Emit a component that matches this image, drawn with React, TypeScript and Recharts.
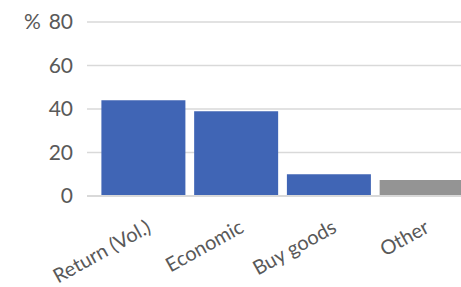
import React from 'react';
import { BarChart, Bar, XAxis, YAxis, CartesianGrid, Cell } from 'recharts';

const categories = ['Return (Vol.)', 'Economic', 'Buy goods', 'Other'];
const shares = [44, 39, 10, 7.4];
const barColors = ['#4065B5', '#4065B5', '#4065B5', '#949494'];
const yTicks = [0, 20, 40, 60, 80];
const yUnit = '%';

const data = categories.map((name, i) => ({ name, value: shares[i] }));

const FONT = 'Lato, "Open Sans", sans-serif';
const TEXT_COLOR = '#595959';

const XTick = (props: any) => {
  const { x, y, payload } = props;
  const px = x + 2;
  const py = y;
  return (
    <text
      x={px}
      y={py}
      dy="0.71em"
      textAnchor="end"
      transform={`rotate(-29, ${px}, ${py})`}
      fill={TEXT_COLOR}
      fontSize={20}
      fontFamily={FONT}
    >
      {payload.value}
    </text>
  );
};

const UnitLabel = (props: any) => {
  const vb = props.viewBox || { x: 0, y: 22 };
  return (
    <text
      x={vb.x + 24}
      y={vb.y}
      dy="0.355em"
      textAnchor="start"
      fill={TEXT_COLOR}
      fontSize={21}
      fontFamily={FONT}
    >
      {yUnit}
    </text>
  );
};

export default function App() {
  return (
    <div
      style={{
        position: 'fixed',
        left: 0,
        top: 0,
        width: 461,
        height: 287,
        overflow: 'hidden',
        background: '#ffffff',
      }}
    >
      <BarChart
        width={478}
        height={287}
        data={data}
        margin={{ top: 22, right: 0, left: 0, bottom: 0 }}
        barCategoryGap={4.4}
      >
        <CartesianGrid vertical={false} stroke="#D9D9D9" strokeWidth={1.5} />
        <XAxis
          dataKey="name"
          height={91}
          padding={{ left: 10, right: 10 }}
          tickLine={false}
          tickSize={0}
          tickMargin={23}
          axisLine={{ stroke: '#D9D9D9', strokeWidth: 2 }}
          tick={<XTick />}
          interval={0}
        />
        <YAxis
          width={87}
          domain={[0, 80]}
          ticks={yTicks}
          axisLine={false}
          tickLine={false}
          tickSize={0}
          tickMargin={14}
          tick={{ fill: TEXT_COLOR, fontSize: 21, fontFamily: FONT }}
          label={<UnitLabel />}
        />
        <Bar dataKey="value" isAnimationActive={false}>
          {data.map((d, i) => (
            <Cell key={d.name} fill={barColors[i]} />
          ))}
        </Bar>
      </BarChart>
    </div>
  );
}
